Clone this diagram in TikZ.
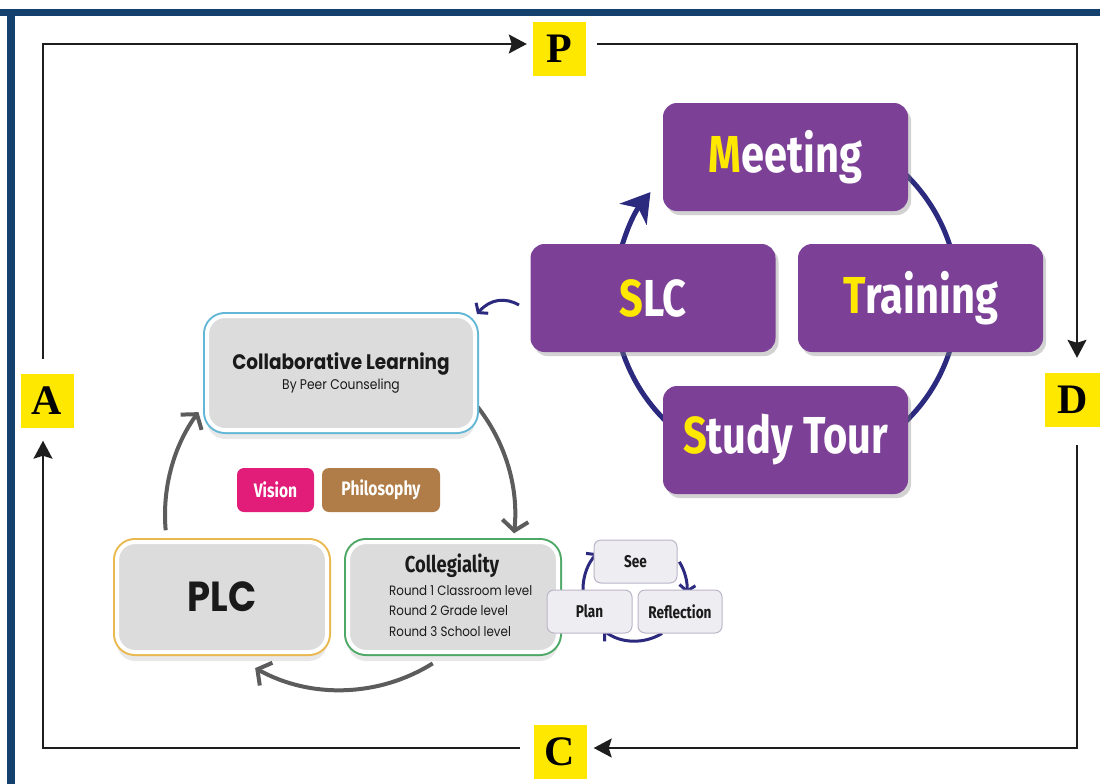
\documentclass[tikz,border=0pt]{standalone}
\usepackage{fontspec}
\usetikzlibrary{arrows.meta,shadows,calc}
\newfontfamily\condf[FakeStretch=0.8]{Fira Sans}
\newfontfamily\geo[FakeStretch=0.88]{Poppins}
\newfontfamily\tnr{Liberation Serif}
\definecolor{bblue}{HTML}{13406D}
\definecolor{framec}{HTML}{1E1E1E}
\definecolor{lyellow}{HTML}{FFE800}
\definecolor{ppurple}{HTML}{7C4197}
\definecolor{indigo}{HTML}{2C2A7E}
\definecolor{garrow}{HTML}{5C5C5C}
\definecolor{boxgray}{HTML}{DCDCDC}
\definecolor{textdark}{HTML}{1A1A1A}
\definecolor{cyanb}{HTML}{62B6D6}
\definecolor{goldb}{HTML}{E9B84E}
\definecolor{greenb}{HTML}{4DA866}
\definecolor{visionc}{HTML}{E21D79}
\definecolor{philoc}{HTML}{B07D48}
\definecolor{sfill}{HTML}{EEEDF2}
\definecolor{sline}{HTML}{BDB5C8}
\newcommand\ptxt[2]{\textcolor{lyellow}{#1}#2}
\begin{document}
\begin{tikzpicture}[x=1pt,y=-1pt,
  frame/.style={draw=framec, line width=1.8pt},
  ftip/.style={-{Stealth[length=18pt,width=19pt,inset=3pt]}},
  letter/.style={fill=lyellow, minimum width=53pt, minimum height=54pt, inner sep=0pt, font=\tnr\bfseries\fontsize{42}{42}\selectfont},
  pbox/.style={fill=ppurple, rounded corners=14pt, minimum width=245pt, minimum height=108pt, inner sep=0pt, drop shadow={opacity=0.35, shadow xshift=3pt, shadow yshift=-4pt}, text=white, font=\condf\bfseries\fontsize{52}{52}\selectfont},
  gbox/.style={fill=boxgray, draw=white, line width=4pt, rounded corners=18pt, inner sep=0pt, drop shadow={opacity=0.18, shadow xshift=0pt, shadow yshift=-9pt}, preaction={draw=#1, line width=8pt}, text=textdark},
  tag/.style={rounded corners=7pt, minimum height=44pt, inner sep=0pt, text=white, font=\condf\bfseries\fontsize{19.5}{20}\selectfont},
  sbox/.style={fill=sfill, draw=sline, line width=1pt, rounded corners=7pt, minimum height=43pt, inner sep=0pt, text=textdark, font=\condf\bfseries\fontsize{17}{17}\selectfont},
  garr/.style={draw=garrow, line width=4pt, -{Straight Barb[length=10pt,width=26pt]}},
  iarr/.style={draw=indigo, line width=3pt, -{Straight Barb[length=6pt,width=16pt]}},
]
\useasboundingbox (0,0) rectangle (1100,784);
\fill[white] (0,0) rectangle (1100,784);
\fill[bblue] (0,9) rectangle (1100,16);
\fill[bblue] (7,9) rectangle (15,784);

% PDCA letters
\node[letter] (P) at (559.5,49) {P};
\node[letter] (A) at (47,400.5) {A};
\node[letter, minimum width=55pt] (D) at (1072.5,400) {D};
\node[letter] (C) at (560,752) {C};
\coordinate (tl) at (43,44);
\coordinate (tr) at (1077,44);
\coordinate (br) at (1077,748);
\coordinate (bl) at (43,748);
\draw[frame, ftip, shorten <=14pt, shorten >=6pt] (tl |- A.north) -- (tl) -- (tl -| P.west);
\draw[frame, ftip, shorten <=11pt, shorten >=15pt] (tl -| P.east) -- (tr) -- (tr |- D.north);
\draw[frame, ftip, shorten <=18pt, shorten >=7pt] (tr |- D.south) -- (br) -- (br -| C.east);
\draw[frame, ftip, shorten <=13pt, shorten >=13pt] (br -| C.west) -- (bl) -- (bl |- A.south);

% big indigo cycle
\coordinate (ic) at (786,298);
\draw[indigo, line width=5pt, -{Stealth[length=28pt,width=34pt,inset=8pt]}] ($(ic)+(-80:172)$) arc[start angle=-80, end angle=218, radius=172];

\node[pbox] (MT) at (785.5,157) {\ptxt{M}{eeting}};
\node[pbox] (SLC) at (653,298) {\ptxt{S}{LC}};
\node[pbox] (TR) at (920.5,298) {\ptxt{T}{raining}};
\node[pbox] (ST) at (785.5,440) {\ptxt{S}{tudy Tour}};

% gray cycle arrows
\coordinate (gc) at (340,515);
\draw[garr] ($(gc)+(175:175)$) arc[start angle=175, end angle=216, radius=175];
\draw[garr] ($(gc)+(321:175)$) arc[start angle=321, end angle=366, radius=175];
\draw[garr] ($(gc)+(58:175)$) arc[start angle=58, end angle=119, radius=175];

\node[gbox=cyanb, minimum width=268pt, minimum height=114pt, align=center] (CL) at (341,373)
  {{\geo\bfseries\fontsize{21}{22}\selectfont Collaborative Learning}\\[2pt]{\geo\fontsize{14}{15}\selectfont By Peer Counseling}};
\node[gbox=goldb, minimum width=210pt, minimum height=110pt, font=\geo\bfseries\fontsize{42}{42}\selectfont] (PLC) at (222,597) {PLC};
\node[gbox=greenb, minimum width=210pt, minimum height=110pt] (CG) at (453,597) {};
\node[text=textdark, font=\condf\bfseries\fontsize{23}{23}\selectfont] (CGt) at (452,566) {Collegiality};
\node[text=textdark, anchor=west, align=left, inner sep=0pt, font=\geo\fontsize{13.5}{20.5}\selectfont] (CGr) at (389,611)
  {Round 1 Classroom level\\Round 2 Grade level\\Round 3 School level};

\node[tag, fill=visionc, minimum width=77pt] (VI) at (275.5,490) {Vision};
\node[tag, fill=philoc, minimum width=118pt] (PH) at (381,490) {Philosophy};

% SLC -> Collaborative Learning
\coordinate (sa) at (519,305);
\draw[iarr] (sa) .. controls (505,297) and (490,299) .. (CL.north east);

% small cycle
\coordinate (sc) at (635,589);
\draw[iarr] ($(sc)+(179:52)$) arc[start angle=179, end angle=223.5, radius=52];
\draw[iarr] ($(sc)+(328.5:52)$) arc[start angle=328.5, end angle=364.4, radius=52];
\draw[iarr] ($(sc)+(58.6:52)$) arc[start angle=58.6, end angle=127.6, radius=52];
\node[sbox, minimum width=83pt] (SEE) at (635.5,561.5) {See};
\node[sbox, minimum width=85pt] (PLN) at (589.5,611.5) {Plan};
\node[sbox, minimum width=84pt] (RF) at (680,611.5) {Reflection};
\end{tikzpicture}
\end{document}
